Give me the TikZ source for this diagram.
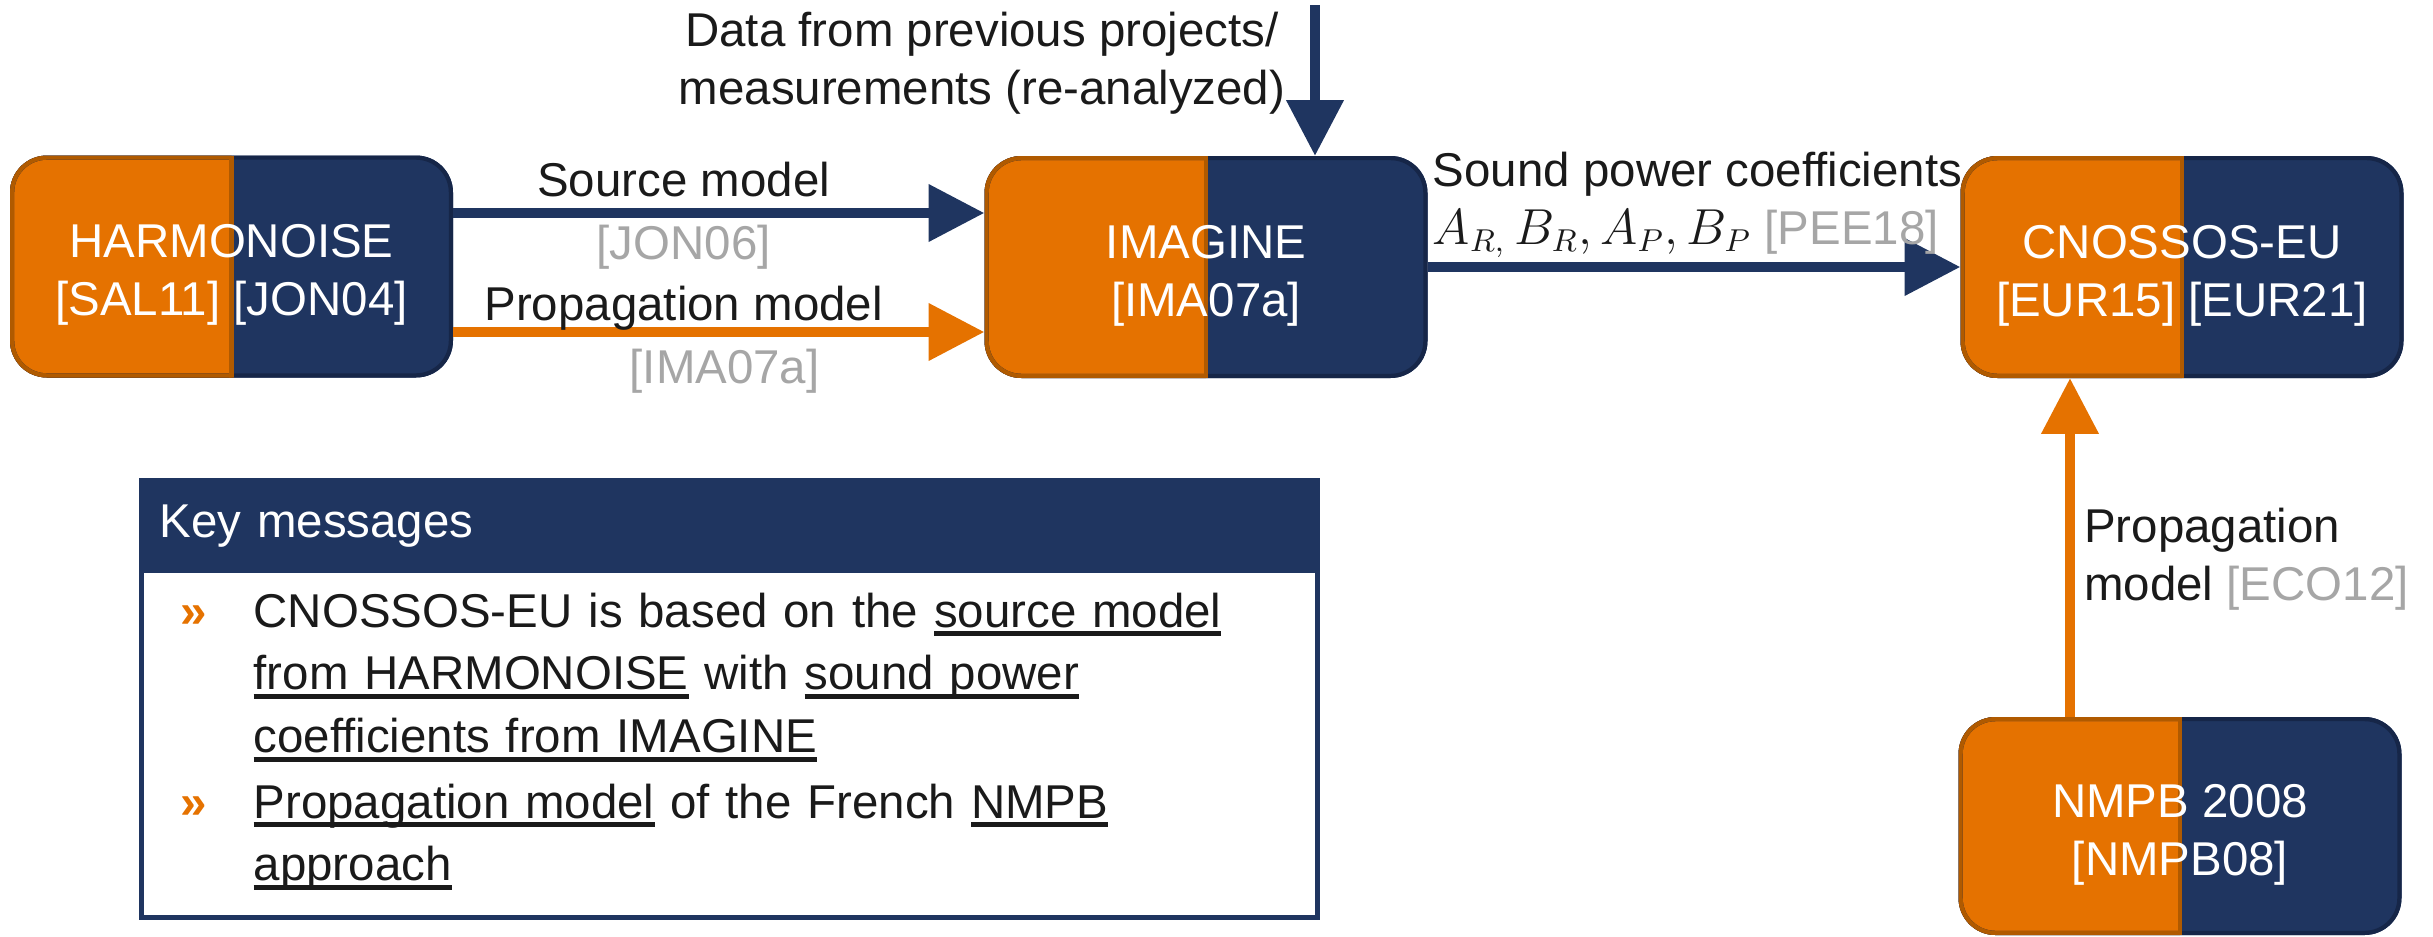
\documentclass[tikz,border=0pt]{standalone}
\usepackage{fontspec}
\setmainfont{Liberation Sans}
\usetikzlibrary{arrows.meta, positioning}

\definecolor{navyfill}{RGB}{31,53,96}
\definecolor{navyedge}{RGB}{22,38,72}
\definecolor{orangefill}{RGB}{229,114,0}
\definecolor{orangeedge}{RGB}{176,90,0}
\definecolor{refgray}{RGB}{166,166,166}
\definecolor{textblack}{RGB}{26,26,26}

\newsavebox{\ulbox}
\newcommand{\keyul}[1]{\leavevmode\sbox{\ulbox}{#1}\rlap{\rule[-2.6pt]{\wd\ulbox}{1.4pt}}\usebox{\ulbox}}
\newcommand{\boxstrut}{\rule{0pt}{14.3pt}}
\newcommand{\boxfont}{\fontsize{13.5pt}{16.5pt}\selectfont}
\newcommand{\keyfont}{\fontsize{13.5pt}{17.9pt}\selectfont}

\tikzset{
    splitbox/.style={rectangle, rounded corners=10.5pt, minimum width=44.3mm, minimum height=22.2mm,
        inner sep=0pt, outer sep=0pt, fill=navyfill, text=white, align=center, font=\boxfont,
        path picture={
            \fill[orangefill, sharp corners] (path picture bounding box.north west) rectangle (path picture bounding box.south);
            \draw[navyedge, line width=2.4pt, rounded corners=10.5pt] (path picture bounding box.north west) rectangle (path picture bounding box.south east);
            \begin{scope}
                \clip[sharp corners] (path picture bounding box.north west) rectangle (path picture bounding box.south);
                \draw[orangeedge, line width=2.4pt, rounded corners=10.5pt] (path picture bounding box.north west) rectangle (path picture bounding box.south east);
            \end{scope}
            \draw[orangeedge, line width=1.4pt] (path picture bounding box.north) -- (path picture bounding box.south);
        }},
    navyarrow/.style={draw=navyfill, line width=3.1pt, -{Triangle[length=15.9pt, width=15.6pt]}},
    orangearrow/.style={draw=orangefill, line width=3.1pt, -{Triangle[length=15.9pt, width=15.6pt]}},
    lbl/.style={inner sep=0pt, font=\boxfont, text=textblack},
    reflbl/.style={lbl, text=refgray},
    keyframe/.style={draw=navyfill, line width=1.4pt, minimum width=117.6mm, minimum height=43.7mm, inner sep=0pt},
    keyhead/.style={fill=navyfill, text=white, font=\boxfont, minimum height=9.4mm, text width=113.6mm,
        inner xsep=2mm, inner ysep=0pt, align=left},
    keytext/.style={anchor=base west, inner sep=0pt, text width=100mm, align=left, font=\keyfont, text=textblack},
    keybullet/.style={anchor=base west, inner sep=0pt, font=\keyfont\bfseries, text=orangefill}
}

\begin{document}
\begin{tikzpicture}[x=0.1mm, y=-0.1mm]
    \useasboundingbox (0,0) rectangle (2433,937);

    \node[splitbox] (harmonoise) at (231.5,266.5) {\boxstrut HARMONOISE\\{}[SAL11] [JON04]};
    \node[splitbox] (imagine) at (1206,267) {\boxstrut IMAGINE\\{}[IMA07a]};
    \node[splitbox] (cnossos) at (2182,267) {\boxstrut CNOSSOS-EU\\{}[EUR15] [EUR21]};
    \node[splitbox, minimum height=21.8mm] (nmpb) at (2180,826) {\boxstrut NMPB 2008\\{}[NMPB08]};

    \draw[navyarrow] ([yshift=5.35mm]harmonoise.east) -- ([yshift=5.35mm]harmonoise.east -| imagine.west)
        node[lbl, pos=.434, above=3pt] {Source model}
        node[reflbl, pos=.434, below=2pt] {[JON06]};
    \draw[orangearrow] ([yshift=-6.55mm]harmonoise.east) -- ([yshift=-6.55mm]harmonoise.east -| imagine.west)
        node[lbl, pos=.434, above=-1pt] {Propagation model}
        node[reflbl, pos=.511, below=3.4pt] {[IMA07a]};

    \coordinate (datasrc) at (1315,5);
    \node[lbl, align=center] (datatext) at (982,63) {Data from previous projects/\\measurements (re-analyzed)};
    \draw[navyarrow] (datasrc) -- (datasrc |- imagine.north);

    \draw[navyarrow] (imagine.east) -- (cnossos.west)
        node[lbl, at start, anchor=south west, yshift=1pt, align=left]
        {Sound power coefficients\\$A_{R,}\,B_R, A_P, B_P$ \textcolor{refgray}{[PEE18]}};

    \draw[orangearrow] ([xshift=-11mm]nmpb.north) -- ([xshift=-11mm]nmpb.north |- cnossos.south)
        node[lbl, midway, right=2.5pt, yshift=-3.4pt, align=left] {Propagation\\model \textcolor{refgray}{[ECO12]}};

    \node[keyframe, anchor=north west] (keybox) at (139,478) {};
    \node[keyhead, anchor=north west] (keyhead) at (keybox.north west) {Key messages};
    \node[keybullet] (bullet1) at (180,627) {»};
    \node[keytext] (msg1) at (253,627) {CNOSSOS-EU is based on the \keyul{source model}\\\keyul{from HARMONOISE} with \keyul{sound power}\\\keyul{coefficients from IMAGINE}};
    \node[keybullet] (bullet2) at (180,818) {»};
    \node[keytext] (msg2) at (253,818) {\keyul{Propagation model} of the French \keyul{NMPB}\\\keyul{approach}};
\end{tikzpicture}
\end{document}
